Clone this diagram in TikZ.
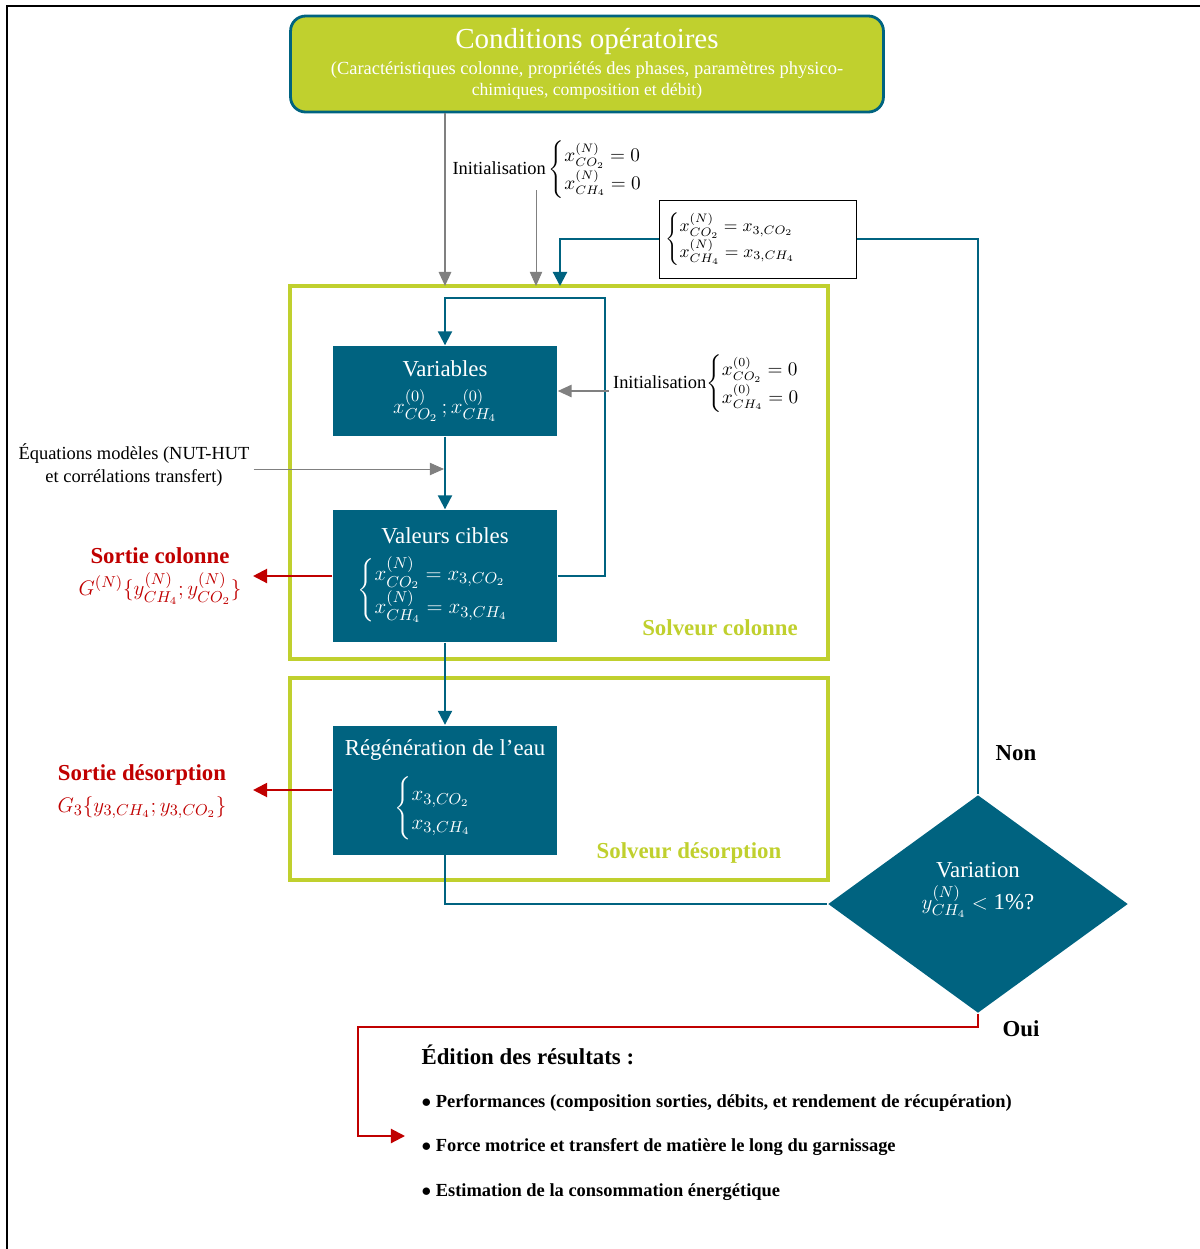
\documentclass[tikz,border=0pt]{standalone}
\usepackage{amsmath}
\usepackage{fontspec}
\setmainfont{Liberation Serif}
\usepackage{tikz}
\usetikzlibrary{arrows.meta,shapes.geometric,positioning}
\definecolor{tealc}{RGB}{0,99,128}
\definecolor{limec}{RGB}{192,208,46}
\definecolor{redc}{RGB}{192,0,0}
\definecolor{grayc}{RGB}{128,128,128}

\begin{document}
\begin{tikzpicture}[x=0.02cm, y=-0.02cm, thick,
          box/.style={rectangle, fill=tealc, text=white, minimum width=4.48cm, align=center, inner sep=2pt, font=\fontsize{13}{16}\selectfont},
          txt/.style={align=center, inner sep=2pt, font=\fontsize{10.5}{13}\selectfont},
          solv/.style={draw=limec, line width=2.3pt},
          tl/.style={tealc, line width=1.2pt},
          tar/.style={tl, -{Triangle[length=8pt,width=8pt]}},
          gar/.style={grayc, line width=1.2pt, -{Triangle[length=8pt,width=7pt]}},
          thar/.style={grayc, line width=0.5pt, -{Triangle[length=8pt,width=7pt]}},
          rar/.style={redc, line width=1.2pt, -{Triangle[length=8pt,width=8pt]}}]
          \useasboundingbox (0,0) rectangle (1200,1249);
          \draw[line width=1.3pt] (7,1249) -- (7,6) -- (1200,6);

          \draw[solv] (290,286) rectangle (828,659);
          \draw[solv] (290,678) rectangle (828,880);
          \coordinate (c1) at (290,286);
          \coordinate (c2) at (560,286);
          \coordinate (c3) at (605,298);
          \coordinate (c4) at (358,1027);
          \coordinate (c5) at (405,1136);
          \coordinate (i1) at (536,190);

          \node[rectangle, rounded corners=0.3cm, draw=tealc, line width=1.6pt, fill=limec, text=white, minimum width=11.86cm, minimum height=1.92cm, align=center] (1) at (587,64)
            {\fontsize{16.5}{18}\selectfont Conditions opératoires\\[3pt]
             \fontsize{10.5}{11.5}\selectfont (Caractéristiques colonne, propriétés des phases, paramètres physico-\\chimiques, composition et débit)};
          \node[box, minimum height=1.8cm] (2) at (445,391) {Variables\\[5pt]$x^{(0)}_{CO_2}\,;x^{(0)}_{CH_4}$};
          \node[box, minimum height=2.64cm] (3) at (445,576) {Valeurs cibles\\[6pt]$\begin{cases}x^{(N)}_{CO_2}=x_{3,CO_2}\\ x^{(N)}_{CH_4}=x_{3,CH_4}\end{cases}$};
          \node[box, minimum height=2.58cm] (4) at (445,790) {Régénération de l’eau\\[8pt]$\begin{cases}x_{3,CO_2}\\[-3pt] x_{3,CH_4}\end{cases}$};
          \node[diamond, fill=tealc, minimum width=6cm, minimum height=4.36cm, inner sep=0pt] (5) at (978,904) {};
          \node[text=white, align=center, font=\fontsize{13}{16}\selectfont] (20) at ([yshift=0.28cm]5.center) {Variation\\[2pt]$y^{(N)}_{CH_4}<$ 1\%?};
          \node[draw, thin, minimum width=3.92cm, minimum height=1.56cm, text width=3.7cm, align=left, font=\fontsize{10}{12}\selectfont] (6) at (758,239)
            {$\begin{cases}x^{(N)}_{CO_2}=x_{3,CO_2}\\ x^{(N)}_{CH_4}=x_{3,CH_4}\end{cases}$};
          \node[txt] (7) at (557,170) {Initialisation\,$\begin{cases}x^{(N)}_{CO_2}=0\\ x^{(N)}_{CH_4}=0\end{cases}$};
          \node[txt] (8) at (716,384) {Initialisation$\begin{cases}x^{(0)}_{CO_2}=0\\ x^{(0)}_{CH_4}=0\end{cases}$};
          \node[txt] (9) at (134,465) {Équations modèles (NUT-HUT\\et corrélations transfert)};
          \node[txt, text=redc, font=\fontsize{13}{16}\selectfont] (10) at (160,576) {\textbf{Sortie colonne}\\[2pt]$G^{(N)}\{y^{(N)}_{CH_4};y^{(N)}_{CO_2}\}$};
          \node[txt, text=redc, font=\fontsize{13}{16}\selectfont] (11) at (142,792) {\textbf{Sortie désorption}\\[2pt]$G_3\{y_{3,CH_4};y_{3,CO_2}\}$};
          \node[font=\bfseries\fontsize{13}{15}\selectfont, text=limec] (12) at (720,628) {Solveur colonne};
          \node[font=\bfseries\fontsize{13}{15}\selectfont, text=limec] (13) at (689,853) {Solveur désorption};
          \node[font=\bfseries\fontsize{13}{15}\selectfont] (14) at (1016,753) {Non};
          \node[font=\bfseries\fontsize{13}{15}\selectfont] (15) at (1021,1029) {Oui};
          \node[anchor=west, font=\bfseries\fontsize{13}{15}\selectfont] (16) at (415,1055) {Édition des résultats :};
          \node[anchor=west, font=\bfseries\fontsize{10.5}{13}\selectfont] (17) at (415,1103) {$\bullet$ Performances (composition sorties, débits, et rendement de récupération)};
          \node[anchor=west, font=\bfseries\fontsize{10.5}{13}\selectfont] (18) at (415,1147) {$\bullet$ Force motrice et transfert de matière le long du garnissage};
          \node[anchor=west, font=\bfseries\fontsize{10.5}{13}\selectfont] (19) at (415,1192) {$\bullet$ Estimation de la consommation énergétique};

          \draw[gar] (1.south -| 2) -- (2 |- c1);
          \draw[thar] (i1) -- (i1 |- c1);
          \draw[tar] (6.west) -| (c2);
          \draw[tl] (6.east) -| (5.north);
          \draw[tar] (3.east) -| (c3) -| (2.north);
          \draw[gar] (8.west |- 2) -- (2.east);
          \draw[tar] (2.south) -- (3.north);
          \draw[thar] (9.east |- 0,469) -- (444,469);
          \draw[tar] (3.south) -- (4.north);
          \draw[rar] (3.west) -- ([xshift=0.15cm]3.west -| 10.east);
          \draw[rar] (4.west) -- ([xshift=0.45cm]4.west -| 11.east);
          \draw[tl] (4.south) |- (5.west);
          \draw[rar] (5.south) |- (c4) |- (c5);
        \end{tikzpicture}
\end{document}
